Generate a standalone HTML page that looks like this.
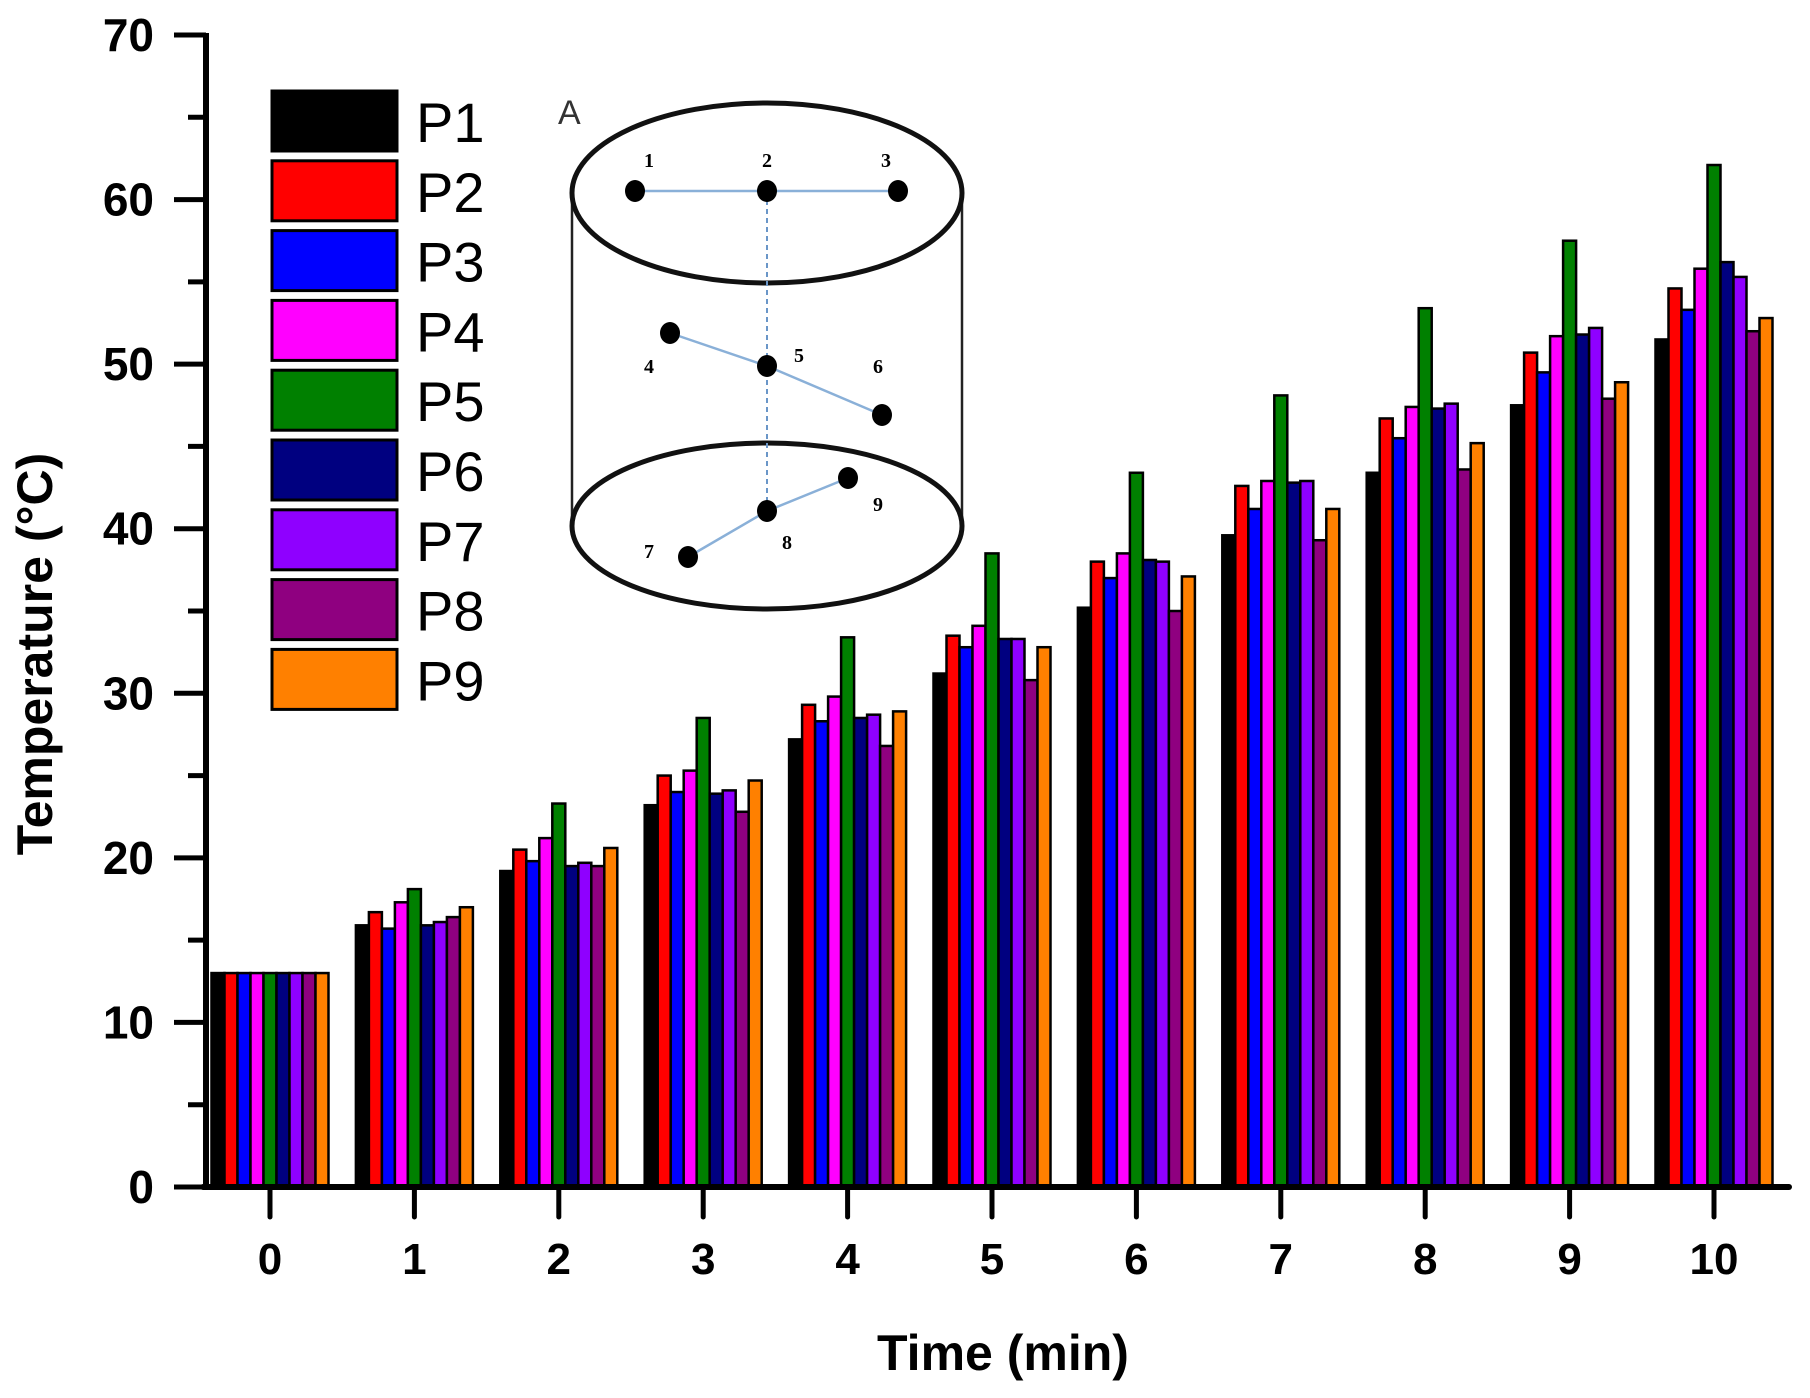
<!DOCTYPE html>
<html><head><meta charset="utf-8"><style>
html,body{margin:0;padding:0;background:#fff;}
svg{display:block;font-family:"Liberation Sans",Arial,sans-serif;}
</style></head><body>
<svg id="chart" width="1810" height="1398" viewBox="0 0 1810 1398" xmlns="http://www.w3.org/2000/svg">
<rect width="1810" height="1398" fill="#fff"/>
<g id="bars"></g>
<g id="axes"></g>
<text x="1003" y="1370" font-size="50" font-weight="bold" text-anchor="middle">Time (min)</text>
<text transform="translate(52,654) rotate(-90)" font-size="50" font-weight="bold" text-anchor="middle">Temperature (°C)</text>
<g id="legend"></g>
<g id="inset" transform="translate(-6,0)">
  <text x="564" y="124" font-size="34" fill="#333">A</text>
  <line x1="578" y1="193" x2="578" y2="526" stroke="#222" stroke-width="2.5"/>
  <line x1="968" y1="193" x2="968" y2="526" stroke="#222" stroke-width="2.5"/>
  <ellipse cx="773" cy="193" rx="195" ry="90" fill="#fff" stroke="#111" stroke-width="5"/>
  <ellipse cx="773" cy="526" rx="195" ry="83" fill="#fff" stroke="#111" stroke-width="5"/>
  <line x1="773" y1="191" x2="773" y2="511" stroke="#6a96c8" stroke-width="2" stroke-dasharray="5,4"/>
  <polyline points="641,191 904,191" fill="none" stroke="#8ab0d8" stroke-width="2.5"/>
  <polyline points="676,333 773,366 888,415" fill="none" stroke="#8ab0d8" stroke-width="2.5"/>
  <polyline points="694,557 773,511 854,478" fill="none" stroke="#8ab0d8" stroke-width="2.5"/>
  <g fill="#000">
    <ellipse cx="641" cy="191" rx="10" ry="11"/><ellipse cx="773" cy="191" rx="10" ry="11"/><ellipse cx="904" cy="191" rx="10" ry="11"/>
    <ellipse cx="676" cy="333" rx="10" ry="11"/><ellipse cx="773" cy="366" rx="10" ry="11"/><ellipse cx="888" cy="415" rx="10" ry="11"/>
    <ellipse cx="694" cy="557" rx="10" ry="11"/><ellipse cx="773" cy="511" rx="10" ry="11"/><ellipse cx="854" cy="478" rx="10" ry="11"/>
  </g>
  <g font-family="'Liberation Serif',serif" font-weight="bold" font-size="20" text-anchor="middle">
    <text x="655" y="167">1</text><text x="773" y="167">2</text><text x="892" y="167">3</text>
    <text x="655" y="373">4</text><text x="805" y="362">5</text><text x="884" y="373">6</text>
    <text x="655" y="558">7</text><text x="793" y="549">8</text><text x="884" y="511">9</text>
  </g>
</g>
</svg>
<script>
const categories = ["0","1","2","3","4","5","6","7","8","9","10"];
const seriesNames = ["P1","P2","P3","P4","P5","P6","P7","P8","P9"];
const seriesColors = ["#000000","#ff0000","#0000ff","#ff00ff","#008000","#000080","#8f00ff","#8f0080","#ff8000"];
const p1 = [13,15.9,19.2,23.2,27.2,31.2,35.2,39.6,43.4,47.5,51.5];
const p2 = [13,16.7,20.5,25,29.3,33.5,38,42.6,46.7,50.7,54.6];
const p3 = [13,15.7,19.8,24,28.3,32.8,37,41.2,45.5,49.5,53.3];
const p4 = [13,17.3,21.2,25.3,29.8,34.1,38.5,42.9,47.4,51.7,55.8];
const p5 = [13,18.1,23.3,28.5,33.4,38.5,43.4,48.1,53.4,57.5,62.1];
const p6 = [13,15.9,19.5,23.9,28.5,33.3,38.1,42.8,47.3,51.8,56.2];
const p7 = [13,16.1,19.7,24.1,28.7,33.3,38,42.9,47.6,52.2,55.3];
const p8 = [13,16.4,19.5,22.8,26.8,30.8,35,39.3,43.6,47.9,52];
const p9 = [13,17,20.6,24.7,28.9,32.8,37.1,41.2,45.2,48.9,52.8];
const seriesValues = [p1,p2,p3,p4,p5,p6,p7,p8,p9];
const yTicks = [0,10,20,30,40,50,60,70];
const yMinorTicks = [5,15,25,35,45,55,65];

const NS = "http://www.w3.org/2000/svg";
const Y0 = 1187, Y70 = 35, X0 = 270, DX = 144.4, BW = 13;
function yScale(v){ return Y0 - (v/70)*(Y0 - Y70); }
function xScale(i){ return X0 + i*DX; }
function mk(tag, attrs, parent){ const e=document.createElementNS(NS,tag); for(const k in attrs) e.setAttribute(k,attrs[k]); parent.appendChild(e); return e; }

const bars = document.getElementById('bars');
categories.forEach((c,i)=>{
  const start = xScale(i) - BW*seriesValues.length/2;
  seriesValues.forEach((vals,s)=>{
    const y = yScale(vals[i]);
    const r = mk('rect',{x:start+s*BW, y:y, width:BW, height:Y0-y, fill:seriesColors[s], stroke:'#000', 'stroke-width':2.5}, bars);
    
    
  });
});

const axes = document.getElementById('axes');
const ya = mk('line',{x1:206,y1:33,x2:206,y2:1189,stroke:'#000','stroke-width':6},axes);


const xa = mk('line',{x1:203,y1:1187,x2:1789,y2:1187,stroke:'#000','stroke-width':6,'stroke-linecap':'round'},axes);


yTicks.forEach(t=>{
  const y=yScale(t);
  mk('line',{x1:174,y1:y,x2:206,y2:y,stroke:'#000','stroke-width':5},axes);
  const tx = mk('text',{x:154,y:y+16,'font-size':46,'font-weight':'bold','text-anchor':'end'},axes);
  tx.textContent=t;
  
  
});
yMinorTicks.forEach(t=>{
  const y=yScale(t);
  mk('line',{x1:188,y1:y,x2:206,y2:y,stroke:'#000','stroke-width':5},axes);
});
categories.forEach((c,i)=>{
  const x=xScale(i);
  mk('line',{x1:x,y1:1187,x2:x,y2:1217,stroke:'#000','stroke-width':5,'stroke-linecap':'round'},axes);
  const tx = mk('text',{x:x,y:1274,'font-size':44,'font-weight':'bold','text-anchor':'middle'},axes);
  tx.textContent=c;
  
  
});

const legend = document.getElementById('legend');
seriesNames.forEach((n,s)=>{
  const y = 91 + s*69.8;
  const r = mk('rect',{x:272,y:y,width:125,height:60,fill:seriesColors[s],stroke:'#000','stroke-width':3},legend);
  
  
  const t = mk('text',{x:416,y:y+51,'font-size':56},legend);
  t.textContent=n;
  
  
});
</script>
</body></html>
